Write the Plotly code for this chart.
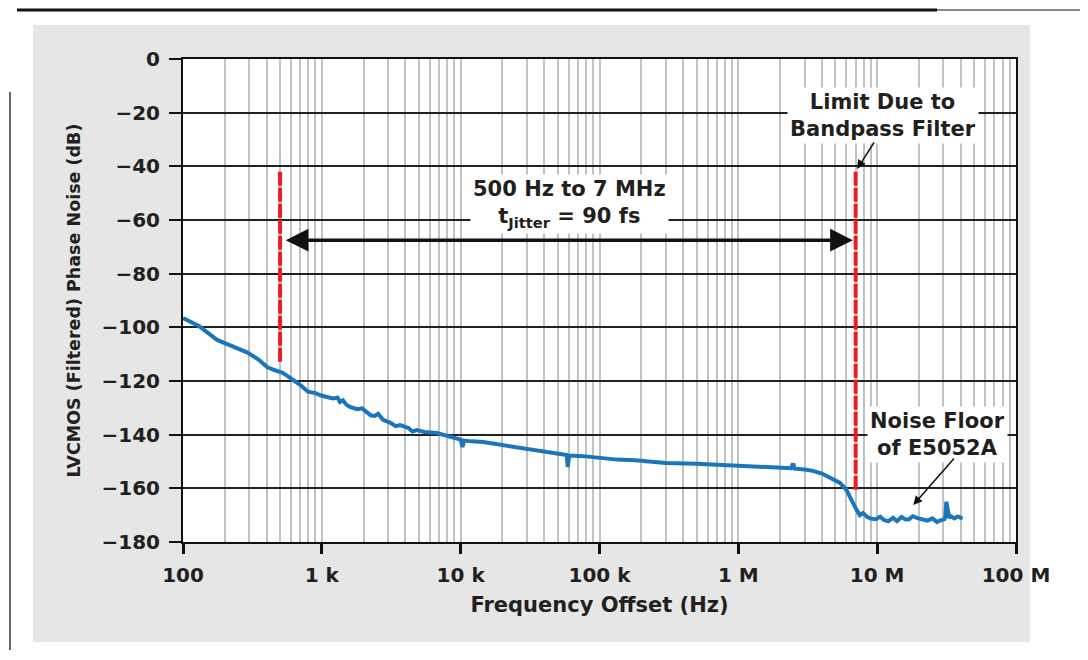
import math
import plotly.graph_objects as go

# ---- data ----
freq_hz = [100, 130, 176, 230, 289, 350, 403, 460, 525, 620, 700, 794, 900, 1000, 1090,
           1200, 1300, 1350, 1420, 1500, 1593, 1800, 1950, 2110, 2250, 2400, 2550, 2760, 3100,
           3400, 3660, 4200, 4500, 4840, 5500, 6740, 8000, 9400, 10000, 10300, 10600, 12000,
           14500, 18000, 25400, 33000, 44200, 55000, 58000, 59000, 60500, 76000, 100000,
           134000, 180000, 230000, 300000, 500000, 700000, 1000000, 1500000, 2000000, 2400000,
           2480000, 2550000, 3000000, 3450000, 4000000, 4600000, 5400000, 6000000, 6500000,
           7100000, 7500000, 7900000, 8500000, 9000000, 9800000, 10500000, 11200000, 12000000,
           13000000, 13900000, 15000000, 16000000, 17000000, 18000000, 19500000, 21000000,
           23000000, 25000000, 27000000, 28000000, 30500000, 31000000, 31500000, 33000000,
           34000000, 36000000, 38000000, 41300000]
phase_noise_db = [-96.5, -99.5, -104.7, -107, -109.3, -112, -114.8, -116, -117, -119.6,
                  -121.5, -124, -124.5, -125.5, -126, -126.5, -126.2, -127.8, -127.2, -128.8,
                  -129.7, -130.5, -130.2, -131.6, -132.8, -133, -132.2, -134.5, -135.5, -136.8,
                  -136.4, -137.5, -138.8, -138.3, -139, -139.4, -140.5, -141.3, -141.8, -144.6,
                  -142.2, -142.5, -142.7, -143.5, -144.6, -145.5, -146.5, -147.3, -147.6, -152,
                  -147.8, -148, -148.7, -149.3, -149.5, -150, -150.6, -150.8, -151.2, -151.5,
                  -152, -152.3, -152.5, -150.8, -152.7, -153, -153.5, -154.5, -156, -158,
                  -160.6, -164.4, -168, -170, -169.2, -170.7, -171.3, -171.5, -170.6, -171.8,
                  -172.3, -171, -172.2, -170.7, -171.6, -171.5, -170.4, -171.1, -171.6, -172,
                  -171.2, -172.6, -172.1, -171.5, -170.7, -165, -171, -170.4, -171.2, -170.5,
                  -171.3, -170]

limit_low_x = [500, 500]
limit_low_y = [-42, -113]
limit_high_x = [7e6, 7e6]
limit_high_y = [-42, -161]

x_tick_vals = [100, 1e3, 1e4, 1e5, 1e6, 1e7, 1e8]
x_tick_text = ["100", "1 k", "10 k", "100 k", "1 M", "10 M", "100 M"]
y_tick_vals = [0, -20, -40, -60, -80, -100, -120, -140, -160, -180]
y_tick_text = ["0", "\u221220", "\u221240", "\u221260", "\u221280", "\u2212100", "\u2212120",
               "\u2212140", "\u2212160", "\u2212180"]
minor_vals = [m * 10 ** d for d in range(2, 8) for m in range(2, 10)]

FONT = "DejaVu Sans, Verdana, sans-serif"
TXT = "#231f20"
BLUE = "#1b75bb"
RED = "#ec1c24"

fig = go.Figure()
fig.add_trace(go.Scatter(x=freq_hz, y=phase_noise_db, mode="lines",
                         line=dict(color=BLUE, width=4), showlegend=False))
fig.add_trace(go.Scatter(x=limit_low_x, y=limit_low_y, mode="lines",
                         line=dict(color=RED, width=4, dash="14px,2px"), showlegend=False))
fig.add_trace(go.Scatter(x=limit_high_x, y=limit_high_y, mode="lines",
                         line=dict(color=RED, width=4, dash="14px,2px"), showlegend=False))

# Page geometry (page pixels); the figure sits 8px into the page (body margin)
OFF = 8
L, R, T, B = 183, 1016, 59, 542
W, H = R - L, B - T
def px(xp):
    return (xp - L) / W
def py(yp):
    return (B - yp) / H

shapes = []
for (x0, y0, x1, y1) in [(0, 0, 1088, 25), (0, 642, 1088, 660), (0, 0, 33, 660), (1030, 0, 1088, 660)]:
    shapes.append(dict(type="rect", xref="paper", yref="paper", x0=px(x0), x1=px(x1),
                       y0=py(y1), y1=py(y0), fillcolor="white", line=dict(width=0), layer="below"))
shapes.append(dict(type="line", xref="paper", yref="paper", x0=px(17), x1=px(937),
                   y0=py(10), y1=py(10), line=dict(color="#111111", width=3)))
shapes.append(dict(type="line", xref="paper", yref="paper", x0=px(937), x1=px(1088),
                   y0=py(10), y1=py(10), line=dict(color="#888888", width=2)))
shapes.append(dict(type="line", xref="paper", yref="paper", x0=px(10), x1=px(10),
                   y0=py(92), y1=py(650), line=dict(color="#333333", width=1.5)))

annos = []
bold_ann = dict(family=FONT, size=21, color=TXT, weight="bold")
# Double-headed arrow between the limits
annos.append(dict(x=math.log10(7e6) - 0.02, y=-67.5, ax=math.log10(500) + 0.03, ay=-67.5,
                  xref="x", yref="y", axref="x", ayref="y", text="", showarrow=True,
                  arrowhead=2, startarrowhead=2, arrowside="end+start", arrowsize=1.3,
                  startarrowsize=1.3, arrowwidth=3.5, arrowcolor="#111111"))
annos.append(dict(x=4.781, y=-54, xref="x", yref="y",
                  text="500 Hz to 7 MHz<br>t<sub>Jitter</sub> = 90 fs", showarrow=False,
                  font=bold_ann, bgcolor="white", borderpad=2))
annos.append(dict(x=7.043, y=-21.2, xref="x", yref="y",
                  text="Limit Due to<br>Bandpass Filter", showarrow=False,
                  font=bold_ann, bgcolor="white", borderpad=2))
annos.append(dict(x=math.log10(7e6) + 0.01, y=-41, xref="x", yref="y", ax=18, ay=-28,
                  text="", showarrow=True, arrowhead=2, arrowsize=1.2, arrowwidth=1.5,
                  arrowcolor="#111111"))
annos.append(dict(x=7.432, y=-139.8, xref="x", yref="y",
                  text="Noise Floor<br>of E5052A", showarrow=False,
                  font=bold_ann, bgcolor="white", borderpad=2))
annos.append(dict(x=7.26, y=-166.2, xref="x", yref="y", ax=42, ay=-48,
                  text="", showarrow=True, arrowhead=2, arrowsize=1.2, arrowwidth=1.5,
                  arrowcolor="#111111"))

fig.update_layout(
    width=1088 - OFF, height=660 - OFF,
    margin=dict(l=L - OFF, r=1088 - R, t=T - OFF, b=660 - B),
    paper_bgcolor="#e6e6e6", plot_bgcolor="white",
    shapes=shapes, annotations=annos,
    font=dict(family=FONT, color=TXT),
    xaxis=dict(type="log", range=[2, 8], tickvals=x_tick_vals, ticktext=x_tick_text,
               tickfont=dict(family=FONT, size=20, color=TXT, weight="bold"),
               ticklabelstandoff=4,
               showgrid=True, gridcolor="#c2c2c2", gridwidth=2,
               minor=dict(tickmode="array", tickvals=minor_vals, showgrid=True,
                          gridcolor="#c2c2c2", gridwidth=2, ticks=""),
               ticks="outside", ticklen=10, tickwidth=3, tickcolor="#111111",
               showline=True, linecolor="#111111", linewidth=2, mirror=True,
               zeroline=False,
               title=dict(text="Frequency Offset (Hz)", standoff=11,
                          font=dict(family=FONT, size=21, color=TXT, weight="bold"))),
    yaxis=dict(range=[-180, 0], tickvals=y_tick_vals, ticktext=y_tick_text,
               tickfont=dict(family=FONT, size=20, color=TXT, weight="bold"),
               ticklabelstandoff=5,
               showgrid=True, gridcolor="#222222", gridwidth=1.5,
               ticks="outside", ticklen=12, tickwidth=2, tickcolor="#111111",
               showline=True, linecolor="#111111", linewidth=2, mirror=True,
               zeroline=False,
               title=dict(text="LVCMOS (Filtered) Phase Noise (dB)", standoff=16,
                          font=dict(family=FONT, size=17.5, color=TXT, weight="bold"))),
)

fig.write_html("out.html")
